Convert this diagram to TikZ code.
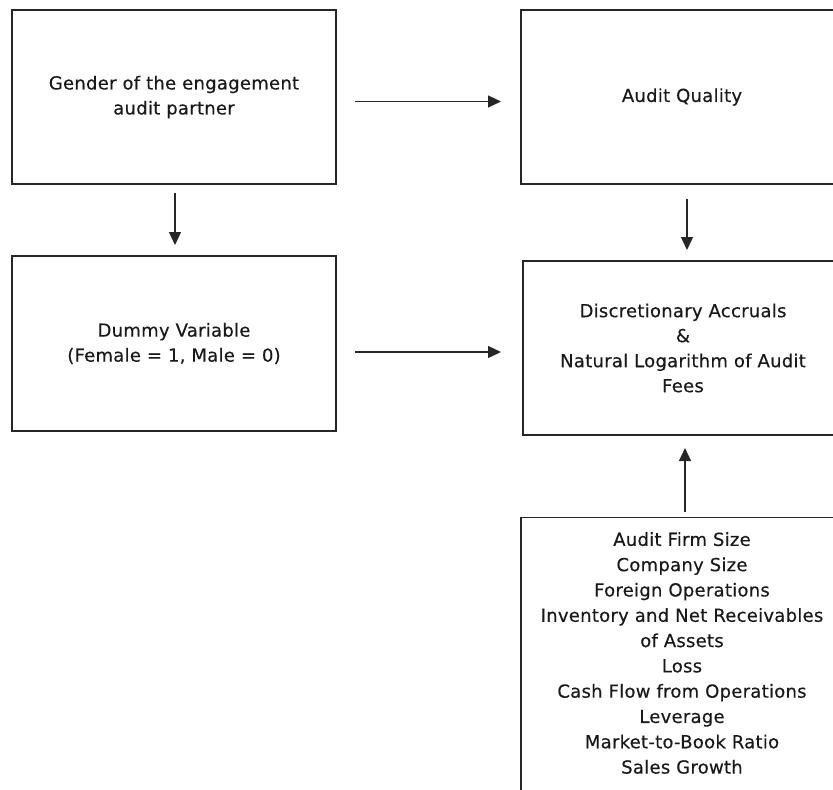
\documentclass[tikz,border=0pt]{standalone}
\usepackage{fontspec}
\setmainfont[LetterSpace=1.5,FakeBold=0.4]{DejaVu Sans}
\usetikzlibrary{arrows.meta}
\begin{document}
\begin{tikzpicture}[x=1pt,y=-1pt,
  box/.style={draw=black!85, line width=1.3pt, rectangle, inner sep=0pt, align=center,
     font=\fontsize{18}{25}\selectfont, text=black!90},
  txt/.style={inner sep=0pt, align=center, font=\fontsize{18}{25.3}\selectfont, text=black!90},
  arr/.style={draw=black!85, line width=1.3pt, -{Triangle[length=13pt,width=12pt]}}]
\useasboundingbox (0,0) rectangle (833,790);
\clip (0,0) rectangle (833,790);
\node[box, minimum width=324pt, minimum height=174pt] (g) at (174,97) {Gender of the engagement\\audit partner};
\node[box, minimum width=324pt, minimum height=175pt] (d) at (174,343.5) {Dummy Variable\\(Female = 1, Male = 0)};
\node[box, minimum width=322pt, minimum height=174pt] (aq) at (682,97) {Audit Quality};
\node[box, minimum width=320pt, minimum height=174pt] (da) at (683,348) {Discretionary Accruals\\\&\\Natural Logarithm of Audit\\Fees};
\node[box, minimum width=322pt, minimum height=300pt, anchor=north] (cvbox) at (682,517) {};
\node[txt] (cv) at (682,653) {Audit Firm Size\\Company Size\\Foreign Operations\\Inventory and Net Receivables\\of Assets\\Loss\\Cash Flow from Operations\\Leverage\\Market-to-Book Ratio\\Sales Growth};
\coordinate (a1s) at (355,101.5);
\coordinate (a1e) at (501,101.5);
\coordinate (a2s) at (355,352);
\coordinate (a2e) at (501,352);
\coordinate (a3s) at (175,193);
\coordinate (a3e) at (175,245);
\coordinate (a4s) at (687,199);
\coordinate (a4e) at (687,250);
\coordinate (a5s) at (685,512);
\coordinate (a5e) at (685,448);
\draw[arr] (a1s) -- (a1e);
\draw[arr] (a2s) -- (a2e);
\draw[arr] (a3s) -- (a3e);
\draw[arr] (a4s) -- (a4e);
\draw[arr] (a5s) -- (a5e);
\end{tikzpicture}
\end{document}
